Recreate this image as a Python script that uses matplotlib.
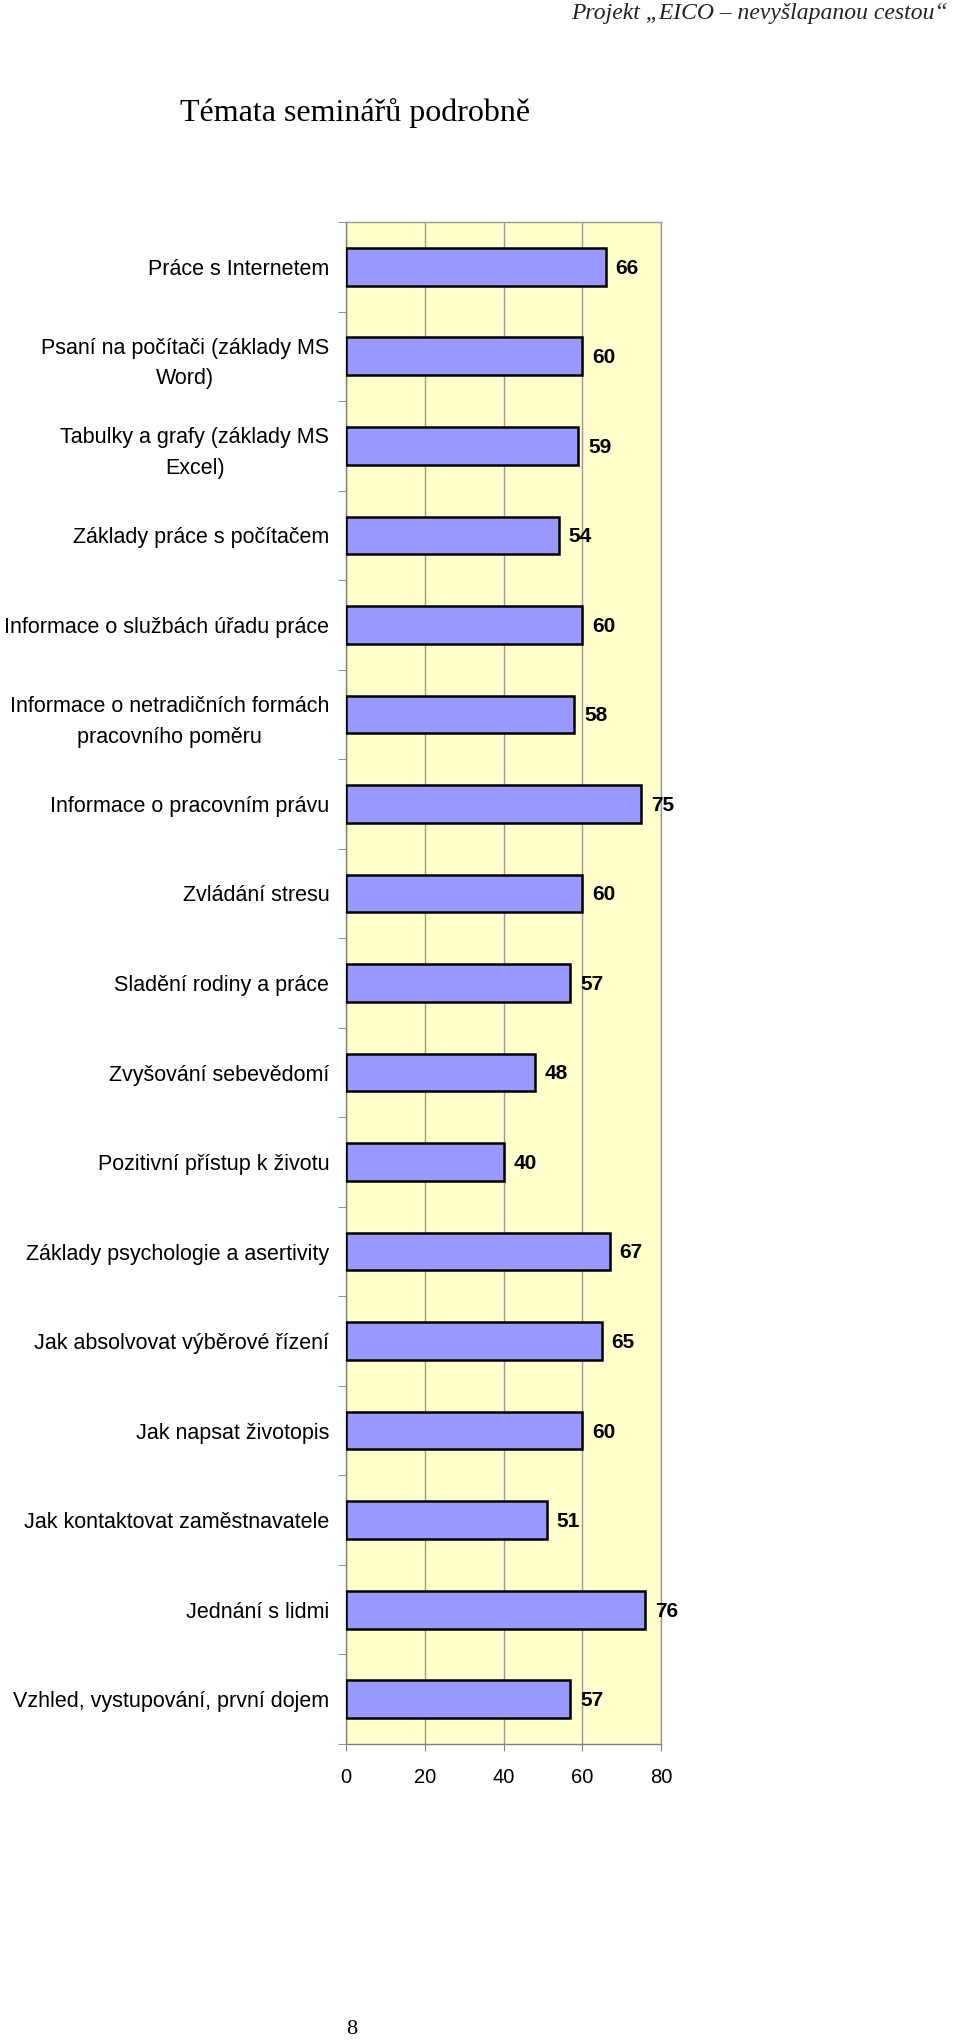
import matplotlib.pyplot as plt
import numpy as np

# Témata seminářů - hodnocení
temata = [
    "Práce s Internetem",
    "Psaní na počítači (základy MS\nWord)",
    "Tabulky a grafy (základy MS\nExcel)",
    "Základy práce s počítačem",
    "Informace o službách úřadu práce",
    "Informace o netradičních formách\npracovního poměru",
    "Informace o pracovním právu",
    "Zvládání stresu",
    "Sladění rodiny a práce",
    "Zvyšování sebevědomí",
    "Pozitivní přístup k životu",
    "Základy psychologie a asertivity",
    "Jak absolvovat výběrové řízení",
    "Jak napsat životopis",
    "Jak kontaktovat zaměstnavatele",
    "Jednání s lidmi",
    "Vzhled, vystupování, první dojem",
]
hodnoty = [66, 60, 59, 54, 60, 58, 75, 60, 57, 48, 40, 67, 65, 60, 51, 76, 57]
x_ticks = [0, 20, 40, 60, 80]

fig = plt.figure(figsize=(9.6, 20.43), dpi=100)
ax = fig.add_axes([346 / 960, 1 - 1744 / 2043, 315 / 960, 1522 / 2043])

pozice = np.arange(len(temata))
ax.barh(pozice, hodnoty, height=0.42, color='#9999FF', edgecolor='black', linewidth=1.8, zorder=3)

for p, h in zip(pozice, hodnoty):
    ax.annotate(str(h), (h, p), xytext=(7, -1), textcoords='offset points',
                ha='left', va='center', fontsize=15, fontweight='bold',
                family='Liberation Sans')

ax.set_facecolor('#FFFFCC')
ax.set_xlim(0, 80)
ax.set_ylim(len(temata) - 0.5, -0.5)
ax.set_xticks(x_ticks)
ax.set_xticklabels([str(t) for t in x_ticks], fontsize=14.5, family='Liberation Sans')
ax.xaxis.grid(True, color='#999999', linewidth=1, zorder=0)
ax.tick_params(axis='x', length=5, color='#808080', pad=12)

# popisky kategorií
ax.set_yticks(pozice)
ax.set_yticklabels(temata, fontsize=15.5, family='Liberation Sans',
                   multialignment='center', linespacing=1.6)
ax.tick_params(axis='y', length=0, pad=12)
ax.set_yticks(np.arange(len(temata) + 1) - 0.5, minor=True)
ax.tick_params(axis='y', which='minor', length=6, color='#808080')

for s in ax.spines.values():
    s.set_color('#999999')
    s.set_linewidth(1)
ax.spines['left'].set_color('#808080')
ax.spines['bottom'].set_color('#808080')

fig.text(948 / 960, 1 - 13 / 2043, "Projekt „EICO – nevyšlapanou cestou“", ha='right', va='center',
         fontsize=17, style='italic', family='Liberation Serif', color='#222222')
fig.text(180 / 960, 1 - 113 / 2043, "Témata seminářů podrobně", ha='left', va='center',
         fontsize=23, family='Liberation Serif')
fig.text(352 / 960, 1 - 2030 / 2043, "8", ha='center', va='center',
         fontsize=16, family='Liberation Serif')

fig.savefig('out.png', dpi=100)
